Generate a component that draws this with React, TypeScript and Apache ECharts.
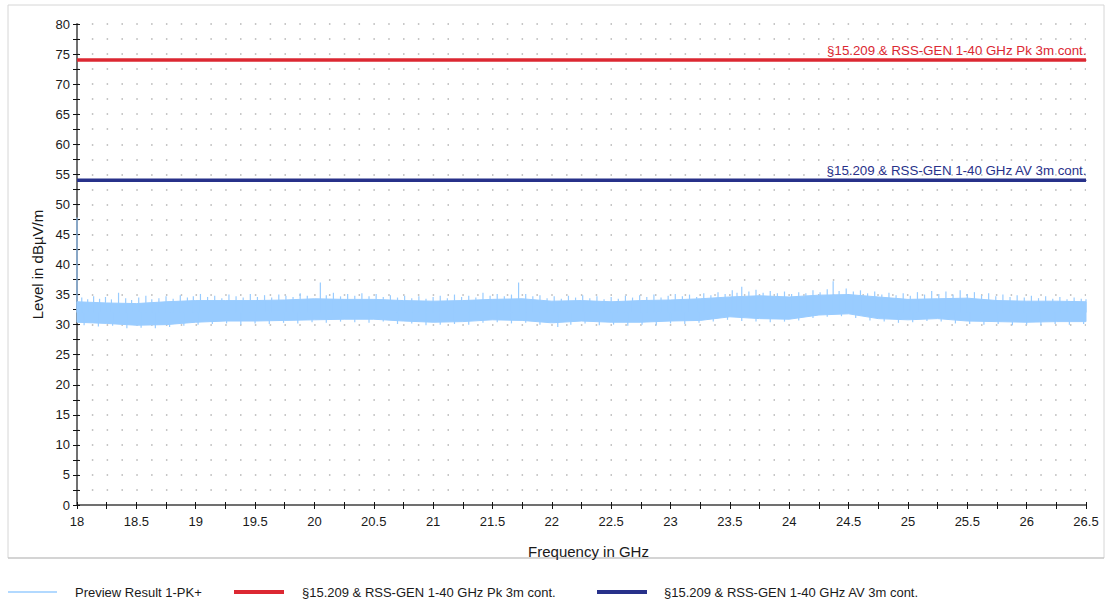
import React, { useEffect, useRef } from "react";
import * as echarts from "echarts";

// ---------- data ----------
const bandFreqs = [18, 18.25, 18.5, 18.75, 19, 19.25, 19.5, 19.75, 20, 20.25, 20.5, 20.75, 21, 21.25, 21.5, 21.75, 22, 22.25, 22.5, 22.75, 23, 23.25, 23.5, 23.75, 24, 24.25, 24.5, 24.75, 25, 25.25, 25.5, 25.75, 26, 26.25, 26.5];
const bandTop = [33.8, 33.6, 33.5, 33.8, 34.0, 34.0, 34.0, 34.1, 34.3, 34.2, 34.2, 34.0, 33.9, 34.0, 34.2, 34.3, 33.9, 34.0, 33.8, 34.0, 34.1, 34.3, 34.6, 34.8, 34.6, 34.9, 35.0, 34.6, 34.2, 34.3, 34.4, 34.0, 33.9, 33.9, 33.8];
const bandBottom = [30.4, 30.2, 29.9, 30.0, 30.4, 30.6, 30.6, 30.7, 30.8, 30.9, 30.9, 30.6, 30.4, 30.5, 30.8, 30.7, 30.3, 30.6, 30.4, 30.4, 30.6, 30.7, 31.3, 31.0, 30.9, 31.6, 31.8, 31.0, 30.8, 31.0, 30.6, 30.5, 30.4, 30.5, 30.5];

// peaks above the band [GHz, dBµV/m]
const peaks = [
  [18.0, 47.8], [18.04, 34.5], [18.09, 34.2], [18.14, 34.7], [18.19, 34.3], [18.24, 34.6], [18.29, 34.2], [18.35, 35.3], [18.41, 34.4], [18.46, 34.1],
  [18.52, 34.5], [18.58, 34.8], [18.63, 34.2], [18.69, 34.4], [18.75, 34.7], [18.81, 34.3], [18.87, 34.9], [18.93, 34.5], [18.98, 34.7], [19.04, 35.1],
  [19.1, 34.6], [19.16, 34.8], [19.22, 34.4], [19.28, 35.0], [19.34, 34.7], [19.4, 34.5], [19.46, 35.1], [19.52, 34.6], [19.58, 34.9], [19.64, 34.5],
  [19.7, 35.0], [19.76, 34.8], [19.82, 34.6], [19.88, 35.2], [19.94, 34.8], [20.05, 37.0], [20.1, 34.9], [20.16, 35.3], [20.22, 34.7], [20.28, 35.1],
  [20.34, 34.8], [20.4, 35.2], [20.46, 34.7], [20.52, 35.1], [20.58, 34.6], [20.64, 34.9], [20.7, 34.5], [20.76, 34.8], [20.82, 34.4], [20.88, 34.7],
  [20.94, 34.3], [21.0, 34.6], [21.06, 34.8], [21.12, 34.4], [21.18, 35.0], [21.24, 34.6], [21.3, 34.8], [21.36, 34.5], [21.42, 35.3], [21.48, 34.8],
  [21.54, 35.1], [21.6, 34.7], [21.66, 35.0], [21.72, 37.0], [21.78, 35.1], [21.84, 34.7], [21.9, 34.9], [21.96, 34.4], [22.02, 34.7], [22.08, 34.3],
  [22.14, 34.8], [22.2, 34.5], [22.26, 34.9], [22.32, 34.4], [22.38, 34.7], [22.44, 34.2], [22.5, 34.6], [22.56, 34.3], [22.62, 34.8], [22.68, 34.5],
  [22.74, 34.9], [22.8, 34.6], [22.86, 35.0], [22.92, 34.5], [22.98, 34.8], [23.04, 35.1], [23.1, 34.7], [23.16, 35.0], [23.22, 34.6], [23.28, 35.2],
  [23.34, 34.9], [23.4, 35.4], [23.46, 35.1], [23.52, 35.7], [23.56, 35.3], [23.6, 36.3], [23.66, 35.5], [23.72, 35.8], [23.78, 35.3], [23.84, 35.6],
  [23.9, 35.2], [23.96, 35.5], [24.02, 35.1], [24.08, 35.4], [24.14, 35.2], [24.2, 35.7], [24.26, 35.4], [24.32, 35.9], [24.37, 37.2], [24.42, 35.6],
  [24.48, 36.0], [24.54, 35.5], [24.6, 35.7], [24.66, 35.2], [24.72, 35.5], [24.78, 35.0], [24.84, 35.3], [24.9, 34.9], [24.96, 35.2], [25.02, 34.8],
  [25.08, 35.4], [25.14, 35.0], [25.2, 35.6], [25.26, 35.1], [25.32, 35.5], [25.38, 35.0], [25.44, 35.7], [25.5, 35.1], [25.56, 35.4], [25.62, 34.9],
  [25.68, 35.2], [25.74, 34.7], [25.8, 35.0], [25.86, 34.6], [25.92, 34.9], [25.98, 34.5], [26.04, 34.8], [26.1, 34.4], [26.16, 34.7], [26.22, 34.3],
  [26.28, 34.6], [26.34, 34.2], [26.4, 34.5], [26.46, 34.3], [26.5, 34.2],
];

// dips below the band [GHz, dBµV/m]
const dips = [
  [18.06, 29.9], [18.18, 29.7], [18.3, 29.8], [18.42, 29.4], [18.54, 29.5], [18.66, 29.4], [18.78, 29.6], [18.9, 29.8], [19.02, 30.0], [19.14, 30.1],
  [19.26, 30.2], [19.38, 30.0], [19.5, 30.2], [19.62, 30.1], [19.74, 30.3], [19.86, 30.2], [19.98, 30.4], [20.1, 30.3], [20.22, 30.5], [20.34, 30.4],
  [20.46, 30.3], [20.58, 30.5], [20.7, 30.1], [20.82, 30.2], [20.94, 29.9], [21.06, 30.0], [21.18, 30.1], [21.3, 30.0], [21.42, 30.3], [21.54, 30.4],
  [21.66, 30.2], [21.78, 30.3], [21.9, 30.0], [22.05, 29.6], [22.16, 30.0], [22.28, 30.2], [22.4, 29.9], [22.52, 30.0], [22.64, 29.8], [22.76, 30.0],
  [22.88, 29.9], [23.0, 30.2], [23.12, 30.1], [23.24, 30.3], [23.36, 30.5], [23.48, 30.8], [23.6, 30.6], [23.72, 30.5], [23.84, 30.4], [23.96, 30.5],
  [24.08, 30.7], [24.2, 31.1], [24.32, 31.3], [24.44, 31.4], [24.56, 31.1], [24.68, 30.7], [24.8, 30.5], [24.92, 30.3], [25.04, 30.4], [25.16, 30.6],
  [25.28, 30.5], [25.4, 30.2], [25.52, 30.1], [25.64, 30.0], [25.76, 30.1], [25.88, 29.9], [26.0, 30.0], [26.12, 29.9], [26.24, 30.1], [26.36, 30.0], [26.48, 30.1],
];

const limitFreqs = [18, 26.5];
const pkLimit = [74, 74];
const avLimit = [54, 54];

const PREVIEW_NAME = "Preview Result 1-PK+";
const PK_NAME = "§15.209 & RSS-GEN 1-40 GHz Pk 3m cont.";
const AV_NAME = "§15.209 & RSS-GEN 1-40 GHz AV 3m cont.";

const FONT = "'Liberation Sans', Arial, sans-serif";
const BLUE = "#99CCFF";
const RED = "#DC2832";
const NAVY = "#27318A";
const TXT = "#1a1a1a";

export default function App() {
  const ref = useRef<HTMLDivElement>(null);

  useEffect(() => {
    if (!ref.current) return;
    const chart = echarts.init(ref.current, null, { renderer: "svg" });

    const spikeRender = (base: number) => (params: any, api: any) => {
      const f = api.value(0);
      const v = api.value(1);
      const p1 = api.coord([f, base]);
      const p2 = api.coord([f, v]);
      return {
        type: "line",
        shape: { x1: p1[0], y1: p1[1], x2: p2[0], y2: p2[1] },
        style: { stroke: BLUE, lineWidth: 1.2 },
      };
    };

    const bandRender = (params: any, api: any) => {
      const pts: number[][] = [];
      for (let i = 0; i < bandFreqs.length; i++) pts.push(api.coord([bandFreqs[i], bandTop[i]]));
      for (let i = bandFreqs.length - 1; i >= 0; i--) pts.push(api.coord([bandFreqs[i], bandBottom[i]]));
      return {
        type: "polygon",
        shape: { points: pts },
        style: { fill: BLUE, stroke: BLUE, lineWidth: 1 },
      };
    };

    const limitSeries = (name: string, vals: number[], color: string) => ({
      name,
      type: "line",
      symbol: "none",
      lineStyle: { color, width: 3.5 },
      itemStyle: { color },
      z: 5,
      data: limitFreqs.map((f, i) =>
        i === limitFreqs.length - 1
          ? {
              value: [f, vals[i]],
              symbol: "circle",
              symbolSize: 1,
              label: {
                show: true,
                position: "left",
                distance: 0,
                offset: [1, -10],
                formatter: name,
                color,
                fontSize: 13.3,
                fontFamily: FONT,
              },
            }
          : [f, vals[i]]
      ),
    });

    const dotted = { color: "#b4b4b4", width: 1.5, type: [1.5, 13.32] as any };

    const legendY = 592;

    const option: any = {
      animation: false,
      textStyle: { fontFamily: FONT },
      grid: { left: 77, right: 24, top: 24, bottom: 99, containLabel: false },
      xAxis: [
        {
          type: "value",
          min: 18,
          max: 26.5,
          interval: 0.5,
          name: "Frequency in GHz",
          nameLocation: "middle",
          nameGap: 39,
          nameTextStyle: { fontSize: 15, color: TXT, fontFamily: FONT, padding: [0, 0, 0, 14] },
          axisLine: { show: true, lineStyle: { color: "#707070", width: 2 } },
          axisTick: { show: true, length: 4, lineStyle: { color: "#111", width: 1 } },
          minorTick: { show: true, splitNumber: 2, length: 4, lineStyle: { color: "#111", width: 1 } },
          axisLabel: { fontSize: 13, color: TXT, margin: 10, fontFamily: FONT },
          splitLine: { show: false },
        },
        {
          type: "value",
          min: 18,
          max: 26.5,
          interval: 0.5,
          position: "bottom",
          axisLine: { show: false },
          axisTick: { show: true, inside: true, length: 3, lineStyle: { color: "#111", width: 1 } },
          minorTick: { show: true, splitNumber: 2, length: 3, lineStyle: { color: "#111", width: 1 } },
          axisLabel: { show: false },
          splitLine: { show: false },
        },
      ],
      yAxis: [
        {
          type: "value",
          min: 0,
          max: 80,
          interval: 5,
          name: "Level in dBµV/m",
          nameLocation: "middle",
          nameGap: 32,
          nameTextStyle: { fontSize: 15, color: TXT, fontFamily: FONT },
          axisLine: { show: true, lineStyle: { color: "#707070", width: 2 } },
          axisTick: { show: true, length: 4, lineStyle: { color: "#111", width: 1 } },
          minorTick: { show: true, splitNumber: 2, length: 4, lineStyle: { color: "#111", width: 1 } },
          axisLabel: { fontSize: 13, color: TXT, margin: 7, fontFamily: FONT },
          splitLine: { show: true, lineStyle: dotted },
          minorSplitLine: { show: true, lineStyle: dotted },
        },
        {
          type: "value",
          min: 0,
          max: 80,
          interval: 5,
          position: "left",
          axisLine: { show: false },
          axisTick: { show: true, inside: true, length: 3, lineStyle: { color: "#111", width: 1 } },
          minorTick: { show: true, splitNumber: 2, length: 3, lineStyle: { color: "#111", width: 1 } },
          axisLabel: { show: false },
          splitLine: { show: false },
        },
      ],
      graphic: [
        {
          type: "rect",
          shape: { x: 8, y: 5, width: 1096, height: 553 },
          style: { fill: "none", stroke: "#d6d6d6", lineWidth: 1 },
          silent: true,
          z: -10,
        },
        { type: "line", shape: { x1: 8, y1: 558, x2: 1104, y2: 558 }, style: { stroke: "#bdbdbd", lineWidth: 1.2 }, z: -9 },
        { type: "line", shape: { x1: 8, y1: legendY, x2: 57, y2: legendY }, style: { stroke: BLUE, lineWidth: 1.5 } },
        { type: "text", x: 75, y: legendY, style: { text: PREVIEW_NAME, fill: TXT, font: `13px ${FONT}`, verticalAlign: "middle" } },
        { type: "line", shape: { x1: 234, y1: legendY, x2: 284, y2: legendY }, style: { stroke: RED, lineWidth: 4 } },
        { type: "text", x: 302, y: legendY, style: { text: PK_NAME, fill: TXT, font: `13px ${FONT}`, verticalAlign: "middle" } },
        { type: "line", shape: { x1: 597, y1: legendY, x2: 647, y2: legendY }, style: { stroke: NAVY, lineWidth: 4 } },
        { type: "text", x: 664, y: legendY, style: { text: AV_NAME, fill: TXT, font: `13px ${FONT}`, verticalAlign: "middle" } },
      ],
      series: [
        {
          name: PREVIEW_NAME,
          type: "custom",
          renderItem: bandRender,
          data: [[18, 32]],
          encode: { x: 0, y: 1 },
          z: 2,
        },
        {
          name: "peaks",
          type: "custom",
          renderItem: spikeRender(32),
          data: peaks,
          encode: { x: 0, y: 1 },
          z: 3,
        },
        {
          name: "dips",
          type: "custom",
          renderItem: spikeRender(32),
          data: dips,
          encode: { x: 0, y: 1 },
          z: 3,
        },
        limitSeries(PK_NAME, pkLimit, RED),
        limitSeries(AV_NAME, avLimit, NAVY),
      ],
    };

    chart.setOption(option);
    return () => chart.dispose();
  }, []);

  return (
    <div
      ref={ref}
      style={{ position: "absolute", left: 0, top: 0, width: 1110, height: 604, background: "#fff" }}
    />
  );
}
